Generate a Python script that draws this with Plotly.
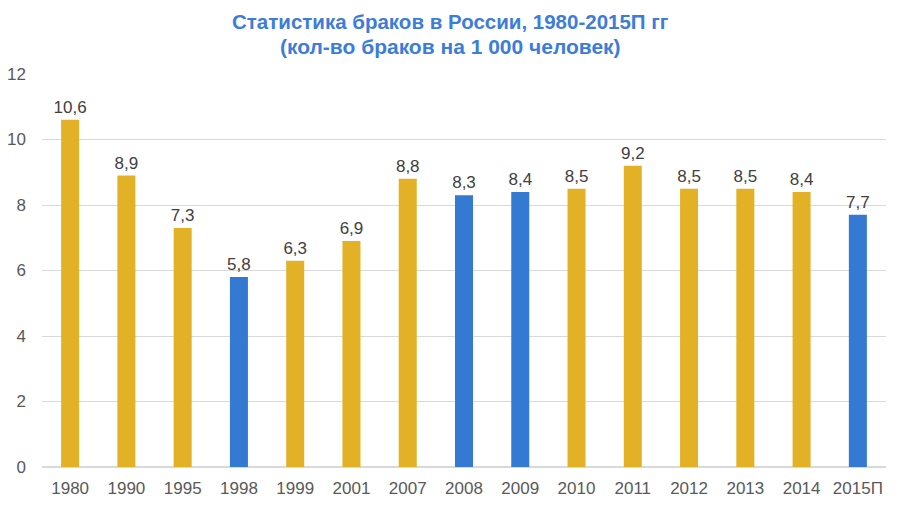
import plotly.graph_objects as go

years = ["1980", "1990", "1995", "1998", "1999", "2001", "2007", "2008", "2009",
         "2010", "2011", "2012", "2013", "2014", "2015П"]
values = [10.6, 8.9, 7.3, 5.8, 6.3, 6.9, 8.8, 8.3, 8.4, 8.5, 9.2, 8.5, 8.5, 8.4, 7.7]
highlight = ["1998", "2008", "2009", "2015П"]
title_lines = ["Статистика браков в России, 1980-2015П гг",
               "(кол-во браков на 1 000 человек)"]

GOLD = "#E3B126"
BLUE = "#3479D2"
TITLE_COLOR = "#3C7DD9"
colors = [BLUE if y in highlight else GOLD for y in years]
labels = [f"{v:.1f}".replace(".", ",") for v in values]

W, H = 892, 512
M = dict(l=34, r=14, t=66, b=53)
plot_h = H - M["t"] - M["b"]
plot_w = W - M["l"] - M["r"]

fig = go.Figure(go.Bar(
    x=years, y=values, marker=dict(color=colors, line=dict(width=0)),
    text=labels, textposition="outside", cliponaxis=False, constraintext="none",
    textfont=dict(family="Liberation Sans, Arial", size=17, color="#404040"),
))

title_x = (442 - M["l"]) / plot_w
for line, px, sz in zip(title_lines, [14, 38], [20.5, 21]):
    fig.add_annotation(
        text=f"<b>{line}</b>", xref="paper", yref="paper",
        x=title_x, y=1 + (M["t"] - px) / plot_h, xanchor="center", yanchor="middle",
        showarrow=False,
        font=dict(family="Liberation Sans, Arial", size=sz, color=TITLE_COLOR),
    )

fig.update_layout(
    width=W, height=H,
    margin=M,
    paper_bgcolor="white", plot_bgcolor="white",
    bargap=0.68,
    showlegend=False,
    font=dict(family="Liberation Sans, Arial", size=17, color="#595959"),
)
fig.update_xaxes(type="category", showgrid=False, showline=True, linecolor="#D9D9D9",
                 ticks="", tickfont=dict(size=17, color="#595959"), ticklabelstandoff=6,
                 automargin=False)
fig.update_yaxes(range=[0, 12], dtick=2, showgrid=True, gridcolor="#D9D9D9",
                 zeroline=True, zerolinecolor="#D9D9D9", showline=False,
                 tickfont=dict(size=17, color="#595959"), ticklabelstandoff=15,
                 automargin=False)

fig.write_html("out.html")
